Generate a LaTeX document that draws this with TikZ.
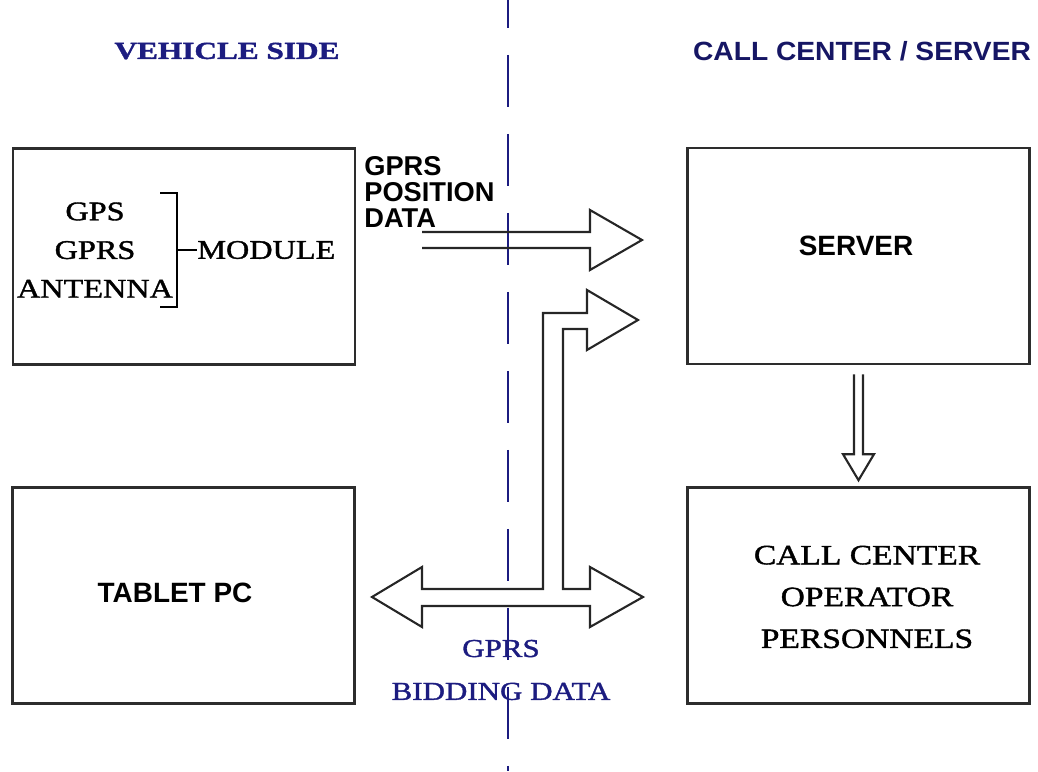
\documentclass[tikz,border=0pt]{standalone}
\usepackage{fontspec}
\usepackage{tikz}
\usetikzlibrary{positioning, calc}
\newfontfamily\serifwide[FakeStretch=1.2, FakeBold=1.4]{Liberation Serif}
\newfontfamily\serifhead[FakeStretch=1.28, FakeBold=1.6]{Liberation Serif}
\newfontfamily\sanshead[FakeStretch=1.07]{Liberation Sans}
\newfontfamily\sansbody{Liberation Sans}
\definecolor{navy}{RGB}{28,28,128}
\definecolor{navydark}{RGB}{22,22,100}
\definecolor{edge}{RGB}{45,45,45}

\begin{document}
\begin{tikzpicture}[x=0.02cm, y=-0.02cm,
		box/.style={draw=edge, line width=1.5pt, minimum width=6.84cm, minimum height=4.32cm, inner sep=0pt},
		blk/.style={draw=black!85, line width=1.2pt, line join=miter},
		txt/.style={inner sep=0pt, align=center},
		side/.style={inner sep=0pt, text=navy}]
	\useasboundingbox (0,0) rectangle (1038,771);
	% the border between both sides
	\draw[navy, line width=1.1pt, dash pattern=on 1.04cm off 0.54cm] (508,-24) -- (508,771);
	\node[side, font=\serifhead\bfseries\fontsize{13.9}{16}\selectfont] (vehicle) at (227,51) {VEHICLE SIDE};
	\node[side, text=navydark, font=\sanshead\bfseries\fontsize{15}{17}\selectfont] (center) at (862,51) {CALL CENTER / SERVER};
	\node[box] (module) at (184,256.5) {};
	\node[box] (tablet) at (183.5,595.5) {};
	\node[box] (server) at (858.5,256) {};
	\node[box] (callc) at (858.5,595.5) {};
	\node[txt, font=\serifwide\fontsize{15.3}{22}\selectfont] (gps) at (95,250) {GPS\\GPRS\\ANTENNA};
	\node[txt, anchor=west, font=\serifwide\fontsize{15.3}{22}\selectfont] (mod) at (197,250) {MODULE};
	\draw[black, line width=0.8pt] (160,193) -- (177,193) -- (177,307) -- (160,307)
		(177,250) -- (mod.west);
	\node[txt, font=\sansbody\bfseries\fontsize{15.9}{18}\selectfont] (tab) at (175,593) {TABLET PC};
	\node[txt, font=\sansbody\bfseries\fontsize{15.9}{18}\selectfont] (srv) at (856,246) {SERVER};
	\node[txt, font=\serifwide\fontsize{15.9}{23.8}\selectfont] (oper) at (867,597) {CALL CENTER\\OPERATOR\\PERSONNELS};
	\node[txt, anchor=west, align=left, font=\sansbody\bfseries\fontsize{15.5}{14.7}\selectfont] (pos) at (364,192) {GPRS\\POSITION\\DATA};
	\node[txt, text=navy, font=\serifwide\fontsize{14.7}{24.4}\selectfont] (bid) at (501,670) {GPRS\\BIDDING DATA};
	% position data arrow
	\draw[blk] (422,232) -- (590,232) -- (590,210) -- (642,240) -- (590,270) -- (590,248) -- (422,248);
	% bidding data arrow
	\draw[blk] (372,597) -- (422,567) -- (422,589) -- (543,589) -- (543,313) -- (587,313) -- (587,290)
		-- (638,320) -- (587,350) -- (587,329) -- (563,329) -- (563,589) -- (590,589) -- (590,567)
		-- (643,597) -- (590,627) -- (590,606) -- (422,606) -- (422,627) -- cycle;
	\draw[blk] ($(server.south)+(-4.5,9)$) |- ($(callc.north)+(-15.5,-32)$) -- ($(callc.north)+(0,-6)$)
		-- ($(callc.north)+(15.5,-32)$) -| ($(server.south)+(4.5,9)$);
\end{tikzpicture}
\end{document}
